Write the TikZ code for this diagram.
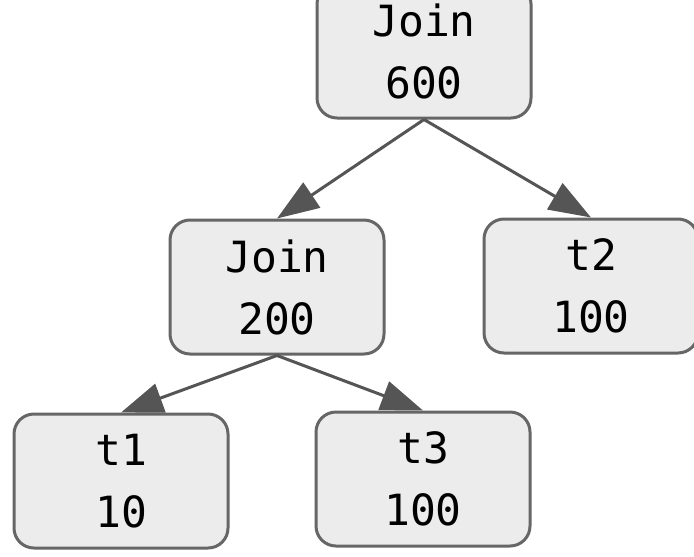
\documentclass[tikz,border=0pt]{standalone}
\usepackage{fontspec}
\setmonofont{DejaVu Sans Mono}
\usepackage{xcolor}
\usetikzlibrary{arrows.meta, positioning}

\definecolor{boxfill}{HTML}{ECECEC}
\definecolor{boxline}{HTML}{666666}
\definecolor{edgecol}{HTML}{555555}

\begin{document}
\begin{tikzpicture}[x=0.5pt, y=-0.5pt,
    plan/.style={draw=boxline, fill=boxfill, line width=1.5pt, rounded corners=10pt,
      minimum width=107pt, minimum height=67pt, align=center,
      font=\ttfamily\fontsize{21.5}{31}\selectfont},
    edge/.style={draw=edgecol, line width=1.5pt,
      -{Triangle[length=21pt, width=15pt]}}]
  \useasboundingbox (0,0) rectangle (694,556);

  % join tree
  \node[plan] (root)  at (424,51)  {Join\\600};
  \node[plan] (join)  at (277,287) {Join\\200};
  \node[plan] (t2)    at (591,286) {t2\\100};
  \node[plan] (t1)    at (121,481) {t1\\10};
  \node[plan] (t3)    at (423,479) {t3\\100};

  \draw[edge] (root.south) -- (join.north);
  \draw[edge] (root.south) -- (t2.north);
  \draw[edge] (join.south) -- (t1.north);
  \draw[edge] (join.south) -- (t3.north);
\end{tikzpicture}
\end{document}
